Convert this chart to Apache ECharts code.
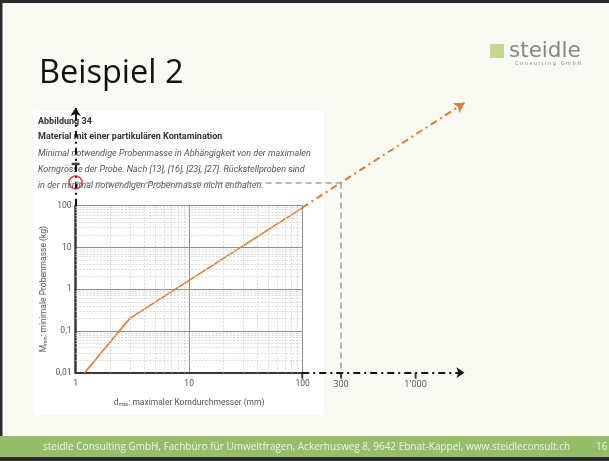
<!DOCTYPE html>
<html>
<head>
<meta charset="utf-8">
<script src="https://cdn.jsdelivr.net/npm/echarts@6/dist/echarts.min.js"></script>
<style>
  html, body { margin: 0; padding: 0; background: #f8faf3; }
  #chart { width: 609px; height: 461px; }
</style>
</head>
<body>
<div id="chart"></div>
<script>
// Kurve aus Abbildung 34 (d_max in mm, M_min in kg)
const dMax = [1.2, 3, 100];
const mMin = [0.01, 0.2, 90];

// Verlängerung der Kurve über 100 mm hinaus
const extD = [100, 2700];
const extM = [90, 29000];

// Ablesung "300" (Lage wie im Bild)
const readD = 220;
const readM = 360;

// Verlängerte Achsen
const axisEndX = 2700;
const axisEndY = 22000;
const extTicksX = [100, 220, 1000];
const extTickLabelsX = ['', '300', "1'000"];
const extTicksY = [1000];

// Feines Raster im Diagramm
const minorX = [2, 3, 4, 5, 6, 7, 8, 9, 20, 30, 40, 50, 60, 70, 80, 90];
const minorY = [0.02, 0.03, 0.04, 0.05, 0.06, 0.07, 0.08, 0.09,
                0.2, 0.3, 0.4, 0.5, 0.6, 0.7, 0.8, 0.9,
                2, 3, 4, 5, 6, 7, 8, 9,
                20, 30, 40, 50, 60, 70, 80, 90];
const yTickLabels = { 0.01: '0,01', 0.1: '0,1', 1: '1', 10: '10', 100: '100' };

const orange = '#e97a2c';
const figFont = 'Roboto';
const slideFont = '"Open Sans"';

const chart = echarts.init(document.getElementById('chart'));

const option = {
  animation: false,
  backgroundColor: '#f8faf3',
  graphic: [
    // Folienrahmen
    { type: 'rect', shape: { x: 0, y: 0, width: 609, height: 3 }, style: { fill: '#2a2a2a' } },
    { type: 'rect', shape: { x: 0, y: 0, width: 2.5, height: 461 }, style: { fill: '#2a2a2a' } },
    // Logo
    { type: 'rect', shape: { x: 490, y: 44, width: 14, height: 14 }, style: { fill: '#c6d98f' } },
    { type: 'text', x: 509, y: 51, style: { text: 'steidle', font: '21.5px "DejaVu Sans"', fill: '#878787', verticalAlign: 'middle' } },
    { type: 'text', x: 515, y: 64, style: { text: 'C o n s u l t i n g   G m b H', font: '5px "DejaVu Sans"', fill: '#858585', verticalAlign: 'middle' } },
    // Titel
    { type: 'text', x: 39, y: 74, style: { text: 'Beispiel 2', font: '32.5px ' + slideFont, fill: '#111', verticalAlign: 'middle' } },
    // Abbildung (weisser Hintergrund)
    { type: 'rect', shape: { x: 34, y: 111, width: 290, height: 304 }, style: { fill: '#ffffff' } },
    { type: 'text', x: 38, y: 122, style: { text: 'Abbildung 34', font: 'bold 9px ' + figFont, fill: '#333', verticalAlign: 'middle' } },
    { type: 'text', x: 38, y: 137, style: { text: 'Material mit einer partikulären Kontamination', font: 'bold 9px ' + figFont, fill: '#333', verticalAlign: 'middle' } },
    { type: 'text', x: 38, y: 153.5, style: { text: 'Minimal notwendige Probenmasse in Abhängigkeit von der maximalen', font: 'italic 9px ' + figFont, fill: '#555', verticalAlign: 'middle' } },
    { type: 'text', x: 38, y: 170, style: { text: 'Korngrösse der Probe. Nach [13], [16], [23], [27]. Rückstellproben sind', font: 'italic 9px ' + figFont, fill: '#555', verticalAlign: 'middle' } },
    { type: 'text', x: 38, y: 186, style: { text: 'in der minimal notwendigen Probenmasse nicht enthalten.', font: 'italic 9px ' + figFont, fill: '#555', verticalAlign: 'middle' } },
    // Fusszeile
    { type: 'rect', shape: { x: 0, y: 436, width: 609, height: 21 }, style: { fill: '#96bd6a' } },
    { type: 'rect', shape: { x: 0, y: 457, width: 609, height: 4 }, style: { fill: '#2a2a2a' } },
    { type: 'text', x: 43, y: 447, style: { text: 'steidle Consulting GmbH, Fachbüro für Umweltfragen, Ackerhusweg 8, 9642 Ebnat-Kappel, www.steidleconsult.ch', font: '10px ' + slideFont, fill: '#eef4e4', verticalAlign: 'middle' } },
    { type: 'text', x: 596, y: 447, style: { text: '16', font: '10px ' + slideFont, fill: '#eef4e4', verticalAlign: 'middle' } }
  ],
  grid: [
    { left: 75.6, top: 205.7, width: 227.1, height: 167 },
    { left: 75.6, top: 101.3, width: 396.6, height: 271.4 }
  ],
  xAxis: [
    {
      type: 'log', logBase: 10, min: 1, max: 100, gridIndex: 0,
      axisLine: { show: true, lineStyle: { color: '#3a3a34', width: 2 } },
      axisTick: { show: false },
      splitLine: { show: true, lineStyle: { color: '#8f8f88', width: 1 } },
      axisLabel: { color: '#555', fontSize: 8.5, fontFamily: figFont, margin: 7 },
      name: '{a|d}{s|max}{a|: maximaler Korndurchmesser (mm)}',
      nameLocation: 'middle', nameGap: 26,
      nameTextStyle: {
        rich: {
          a: { color: '#555', fontSize: 8.5, fontFamily: figFont },
          s: { color: '#555', fontSize: 5, fontFamily: figFont, verticalAlign: 'bottom', padding: [4, 0, 0, 0] }
        }
      }
    },
    { type: 'log', logBase: 10, min: 1, max: 3162.28, gridIndex: 1, show: false }
  ],
  yAxis: [
    {
      type: 'log', logBase: 10, min: 0.01, max: 100, gridIndex: 0,
      axisLine: { show: true, lineStyle: { color: '#3a3a34', width: 2.5 } },
      axisTick: { show: false },
      splitLine: { show: true, lineStyle: { color: '#8f8f88', width: 1 } },
      axisLabel: {
        color: '#555', fontSize: 8.5, fontFamily: figFont, margin: 4,
        formatter: v => yTickLabels[+v.toPrecision(3)] || ''
      },
      name: '{a|M}{s|min}{a|: minimale Probenmasse (kg)}',
      nameLocation: 'middle', nameGap: 27, nameRotate: 90,
      nameTextStyle: {
        rich: {
          a: { color: '#555', fontSize: 8.5, fontFamily: figFont },
          s: { color: '#555', fontSize: 5, fontFamily: figFont, verticalAlign: 'bottom', padding: [4, 0, 0, 0] }
        }
      }
    },
    { type: 'log', logBase: 10, min: 0.01, max: 31622.8, gridIndex: 1, show: false }
  ],
  series: [
    {
      // feines Raster
      name: 'raster', type: 'line', xAxisIndex: 0, yAxisIndex: 0, data: [], z: 1,
      markLine: {
        silent: true, symbol: 'none', label: { show: false },
        lineStyle: { color: '#d2d2ce', width: 0.8, type: [2, 1.5] },
        data: [...minorX.map(v => ({ xAxis: v })), ...minorY.map(v => ({ yAxis: v }))]
      }
    },
    {
      name: 'Probenmasse', type: 'line', xAxisIndex: 0, yAxisIndex: 0, z: 3,
      data: dMax.map((d, i) => [d, mMin[i]]),
      symbol: 'none',
      lineStyle: { color: orange, width: 1.6 }
    },
    {
      // Verlängerung der Kurve
      name: 'verlaengerung', type: 'line', xAxisIndex: 1, yAxisIndex: 1, data: [], z: 4,
      markLine: {
        silent: true, symbol: ['none', 'arrow'], symbolSize: [9, 10], label: { show: false },
        lineStyle: { color: orange, width: 2, type: [7, 4, 2, 4] },
        data: [[{ coord: [extD[0], extM[0]] }, { coord: [extD[1], extM[1]] }]]
      }
    },
    {
      // verlängerte Achsen
      name: 'achsen', type: 'line', xAxisIndex: 1, yAxisIndex: 1, data: [], z: 4,
      markLine: {
        silent: true, symbol: ['none', 'arrow'], symbolSize: [8, 8], label: { show: false },
        lineStyle: { color: '#111', width: 2, type: [7, 4, 2, 4] },
        data: [
          [{ coord: [100, 0.01] }, { coord: [axisEndX, 0.01] }],
          [{ coord: [1, 100] }, { coord: [1, axisEndY] }]
        ]
      }
    },
    {
      // Ablesung
      name: 'ablesung', type: 'line', xAxisIndex: 1, yAxisIndex: 1, data: [], z: 4,
      markLine: {
        silent: true, symbol: 'none', label: { show: false },
        lineStyle: { color: '#a3a3a0', width: 1.6, type: [6, 4] },
        data: [
          [{ coord: [1, readM] }, { coord: [readD, readM] }],
          [{ coord: [readD, readM] }, { coord: [readD, 0.01] }]
        ]
      }
    },
    {
      name: 'ticksX', type: 'scatter', xAxisIndex: 1, yAxisIndex: 1, z: 5, clip: false,
      data: extTicksX.map(v => [v, 0.01]),
      symbol: 'rect', symbolSize: [2, 6], symbolOffset: [0, 3],
      itemStyle: { color: '#111' },
      label: {
        show: true, position: 'bottom', distance: 1,
        formatter: p => extTickLabelsX[p.dataIndex],
        color: '#222', fontSize: 9, fontFamily: 'Open Sans'
      }
    },
    {
      name: 'ticksY', type: 'scatter', xAxisIndex: 1, yAxisIndex: 1, z: 5, clip: false,
      data: extTicksY.map(v => [1, v]),
      symbol: 'rect', symbolSize: [8, 2.5],
      itemStyle: { color: '#111' }
    },
    {
      name: 'kreis', type: 'scatter', xAxisIndex: 1, yAxisIndex: 1, z: 6, clip: false,
      data: [[1, readM]],
      symbol: 'circle', symbolSize: 13,
      itemStyle: { color: 'rgba(0,0,0,0)', borderColor: '#e8141c', borderWidth: 1.5 }
    }
  ]
};

chart.setOption(option);
</script>
</body>
</html>
